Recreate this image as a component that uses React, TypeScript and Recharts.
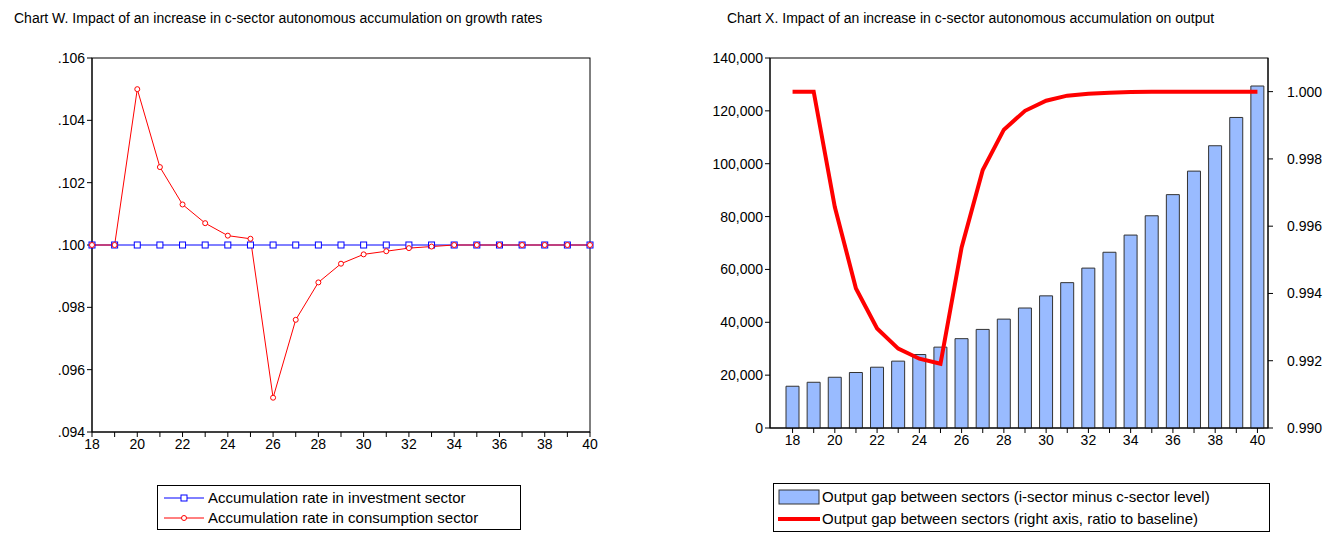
import React from "react";
import { ComposedChart, Line, Bar, XAxis, YAxis } from "recharts";

const years = [18,19,20,21,22,23,24,25,26,27,28,29,30,31,32,33,34,35,36,37,38,39,40];
const invRate = [.1,.1,.1,.1,.1,.1,.1,.1,.1,.1,.1,.1,.1,.1,.1,.1,.1,.1,.1,.1,.1,.1,.1];
const consRate = [.1,.1,.1050,.1025,.1013,.1007,.1003,.1002,.0951,.0976,.0988,.0994,.0997,.0998,.0999,.09995,.1,.1,.1,.1,.1,.1,.1];
const gapLevel = [15800,17300,19200,21000,23000,25300,27800,30600,33800,37300,41200,45400,50000,55000,60500,66500,73000,80300,88300,97200,106800,117500,129400];
const gapRatio = [1,1,.99657,.99415,.99296,.99236,.99206,.99191,.99537,.99767,.99887,.99943,.99973,.99988,.99994,.99997,.99999,1,1,1,1,1,1];
const leftTicks = [.094,.096,.098,.100,.102,.104,.106];
const leftTickLabels = [".094",".096",".098",".100",".102",".104",".106"];
const rightTicksL = [0,20000,40000,60000,80000,100000,120000,140000];
const rightTicksR = [.990,.992,.994,.996,.998,1.000];

const leftData = years.map((y, i) => ({ y, inv: invRate[i], cons: consRate[i] }));
const rightData = years.map((y, i) => ({ y, lvl: gapLevel[i], ratio: gapRatio[i] }));

const font = "'Liberation Sans', Arial, sans-serif";
const tickStyle = { fontSize: 14, fill: "#000", fontFamily: font };

const Square = (p: any) => (
  <rect x={p.cx - 3} y={p.cy - 3} width={6} height={6} fill="#fff" stroke="#0000ff" strokeWidth={1} />
);
const Circ = (p: any) => <circle cx={p.cx} cy={p.cy} r={2.5} fill="#fff" stroke="#ff0000" strokeWidth={1} />;

export default function App() {
  return (
    <div style={{ position: "absolute", left: 0, top: 0, width: 1323, height: 536, background: "#fff", overflow: "hidden", fontFamily: font }}>
      <div style={{ position: "absolute", left: 14, top: 10, fontSize: 14 }}>Chart W. Impact of an increase in c-sector autonomous accumulation on growth rates</div>
      <div style={{ position: "absolute", left: 727, top: 10, fontSize: 14 }}>Chart X. Impact of an increase in c-sector autonomous accumulation on output</div>

      <div style={{ position: "absolute", left: 0, top: 0 }}>
        <ComposedChart width={660} height={460} data={leftData} margin={{ top: 58, right: 70, bottom: 0, left: 0 }}>
          <rect x={92} y={58} width={498} height={374} fill="none" stroke="#000" />
          <XAxis dataKey="y" type="number" domain={[18, 40]} ticks={years} interval={0}
            tickFormatter={(v: number) => (v % 2 === 0 ? String(v) : "")}
            height={28} tick={tickStyle} stroke="#000" tickSize={5} />
          <YAxis type="number" domain={[.094, .106]} ticks={leftTicks} width={92}
            tickFormatter={(v: number, i: number) => leftTickLabels[i]} tick={tickStyle} stroke="#000" tickSize={5} />
          <Line dataKey="inv" stroke="#0000ff" strokeWidth={1} dot={<Square />} isAnimationActive={false} />
          <Line dataKey="cons" stroke="#ff0000" strokeWidth={1} dot={<Circ />} isAnimationActive={false} />
        </ComposedChart>
      </div>

      <div style={{ position: "absolute", left: 680, top: 0 }}>
        <ComposedChart width={660} height={460} data={rightData} margin={{ top: 58, right: 0, bottom: 0, left: 0 }}>
          <rect x={90} y={58} width={498} height={370} fill="none" stroke="#000" />
          <XAxis dataKey="y" interval={0} padding={{ left: 12, right: 0 }} tickFormatter={(v: number) => (v % 2 === 0 ? String(v) : "")}
            height={32} tick={tickStyle} stroke="#000" tickSize={5} />
          <YAxis yAxisId="l" domain={[0, 140000]} ticks={rightTicksL} width={90}
            tickFormatter={(v: number) => v.toLocaleString("en-US")} tick={tickStyle} stroke="#000" tickSize={5} />
          <YAxis yAxisId="r" orientation="right" domain={[.990, 1.001]} ticks={rightTicksR} width={72}
            tickFormatter={(v: number) => v.toFixed(3)} tick={{ ...tickStyle, textAnchor: "start", dx: 12 }} stroke="#000" tickSize={5} />
          <Bar yAxisId="l" dataKey="lvl" barSize={13} fill="#99bbff" stroke="#333" strokeWidth={1} isAnimationActive={false} />
          <Line yAxisId="r" dataKey="ratio" stroke="#ff0000" strokeWidth={4} dot={false} isAnimationActive={false} />
        </ComposedChart>
      </div>

      <div style={{ position: "absolute", left: 157, top: 485, width: 364, height: 45, border: "1px solid #000", fontSize: 15, boxSizing: "border-box" }}>
        <div style={{ position: "absolute", left: 6, top: 3, display: "flex", alignItems: "center" }}>
          <svg width={40} height={14}><line x1={0} y1={7} x2={40} y2={7} stroke="#0000ff" /><rect x={17} y={4} width={6} height={6} fill="#fff" stroke="#0000ff" /></svg>
          <span style={{ marginLeft: 4 }}>Accumulation rate in investment sector</span>
        </div>
        <div style={{ position: "absolute", left: 6, top: 23, display: "flex", alignItems: "center" }}>
          <svg width={40} height={14}><line x1={0} y1={7} x2={40} y2={7} stroke="#ff0000" /><circle cx={20} cy={7} r={2.5} fill="#fff" stroke="#ff0000" /></svg>
          <span style={{ marginLeft: 4 }}>Accumulation rate in consumption sector</span>
        </div>
      </div>

      <div style={{ position: "absolute", left: 773, top: 483, width: 497, height: 49, border: "1px solid #000", fontSize: 15, boxSizing: "border-box" }}>
        <div style={{ position: "absolute", left: 4, top: 4, display: "flex", alignItems: "center" }}>
          <svg width={42} height={16}><rect x={1} y={1} width={40} height={14} fill="#99bbff" stroke="#333" /></svg>
          <span style={{ marginLeft: 2 }}>Output gap between sectors (i-sector minus c-sector level)</span>
        </div>
        <div style={{ position: "absolute", left: 4, top: 26, display: "flex", alignItems: "center" }}>
          <svg width={42} height={16}><line x1={0} y1={8} x2={42} y2={8} stroke="#ff0000" strokeWidth={4} /></svg>
          <span style={{ marginLeft: 2 }}>Output gap between sectors (right axis, ratio to baseline)</span>
        </div>
      </div>
    </div>
  );
}
